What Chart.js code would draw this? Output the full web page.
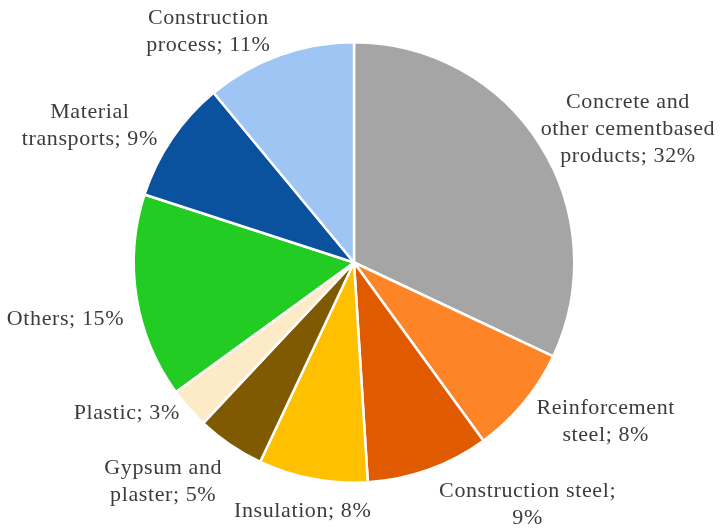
<!DOCTYPE html>
<html>
<head>
<meta charset="utf-8">
<script src="https://cdn.jsdelivr.net/npm/chart.js@4"></script>
<style>
  html, body { margin: 0; padding: 0; background: #fff; }
  #wrap { width: 727px; height: 528px; }
</style>
</head>
<body>
<div id="wrap"><canvas id="pie"></canvas></div>
<script>
const labels = [
  ['Concrete and', 'other cementbased', 'products; 32%'],
  ['Reinforcement', 'steel; 8%'],
  ['Construction steel;', '9%'],
  ['Insulation; 8%'],
  ['Gypsum and', 'plaster; 5%'],
  ['Plastic; 3%'],
  ['Others; 15%'],
  ['Material', 'transports; 9%'],
  ['Construction', 'process; 11%']
];
const shares = [32, 8, 9, 8, 5, 3, 15, 9, 11];
const colors = ['#a5a5a5', '#fe8428', '#e05a00', '#ffc000', '#7f5a00',
                '#fdebc8', '#22cc22', '#0a529e', '#9fc5f4'];

// where each label sits, relative to the point where the slice's middle meets the rim
const labelNudge = [
  [88, -15], [82, 19], [99, 35], [-10, 32], [-67, 37],
  [-62, 5], [-71, 22], [-82, -13], [-71, -24]
];

const textColor = '#3c3c3c';
const font = '22px "Liberation Serif", serif';
const lineHeight = 27;

const outsideLabels = {
  id: 'outsideLabels',
  afterDatasetsDraw(chart) {
    const ctx = chart.ctx;
    const arcs = chart.getDatasetMeta(0).data;
    ctx.save();
    ctx.font = font;
    ctx.letterSpacing = '0.6px';
    ctx.fillStyle = textColor;
    ctx.textAlign = 'center';
    ctx.textBaseline = 'middle';
    arcs.forEach((arc, i) => {
      const mid = (arc.startAngle + arc.endAngle) / 2;
      const x = arc.x + Math.cos(mid) * arc.outerRadius + labelNudge[i][0];
      const y = arc.y + Math.sin(mid) * arc.outerRadius + labelNudge[i][1];
      const lines = chart.data.labels[i];
      const top = y - (lines.length - 1) * lineHeight / 2;
      lines.forEach((line, j) => ctx.fillText(line, x, top + j * lineHeight));
    });
    ctx.restore();
  }
};

new Chart(document.getElementById('pie'), {
  type: 'pie',
  data: {
    labels,
    datasets: [{
      data: shares,
      backgroundColor: colors,
      borderColor: '#ffffff',
      borderWidth: 2.5
    }]
  },
  options: {
    responsive: true,
    maintainAspectRatio: false,
    animation: false,
    layout: { padding: { top: 41, bottom: 44, left: 0, right: 19 } },
    plugins: {
      legend: { display: false },
      tooltip: { enabled: false }
    }
  },
  plugins: [outsideLabels]
});
</script>
</body>
</html>
